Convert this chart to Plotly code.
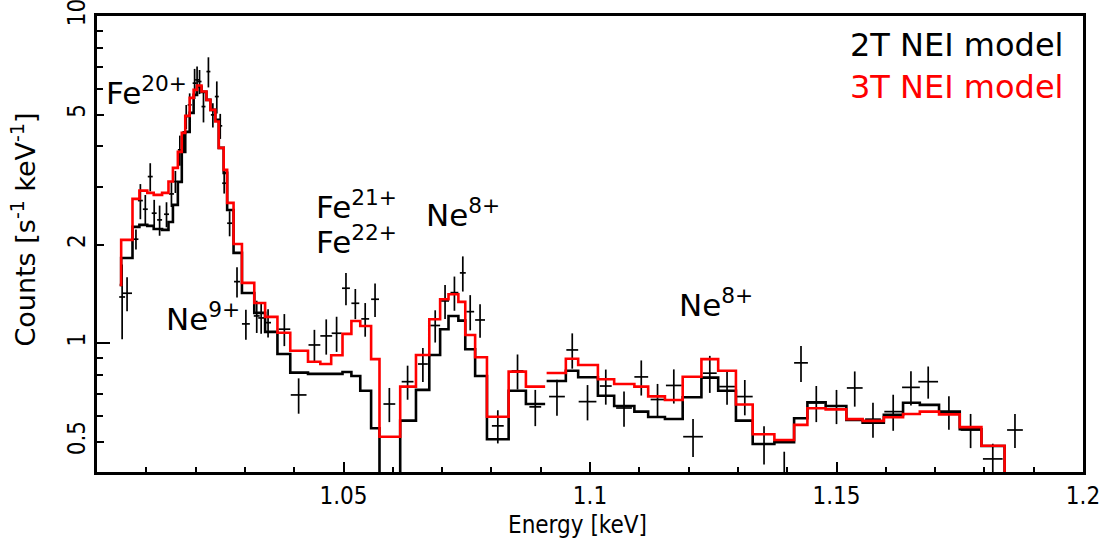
import plotly.graph_objects as go

# ---- Model spectra: bin edges (keV) for two contiguous segments ----
edges_a = [1.0046, 1.0049, 1.0072, 1.0086, 1.0102, 1.0115, 1.0132, 1.0145, 1.0154, 1.0164,
           1.0172, 1.0179, 1.0188, 1.0196, 1.0203, 1.0212, 1.0222, 1.0230, 1.0240, 1.0247,
           1.0257, 1.0264, 1.0277, 1.0294, 1.0319, 1.0341, 1.0366, 1.0392, 1.0428, 1.0453,
           1.0475, 1.0498, 1.0516, 1.0534, 1.0556, 1.0573, 1.0615, 1.0647, 1.0674, 1.0696,
           1.0713, 1.0733, 1.0747, 1.0767, 1.0791, 1.0835, 1.0870, 1.0909]
edges_b = [1.0912, 1.0951, 1.0976, 1.1016, 1.1049, 1.1090, 1.1118, 1.1152, 1.1188, 1.1226,
           1.1260, 1.1296, 1.1330, 1.1374, 1.1414, 1.1441, 1.1478, 1.1520, 1.1553, 1.1596,
           1.1635, 1.1669, 1.1708, 1.1750, 1.1794, 1.1841, 1.1843]

# 2T NEI model (counts s^-1 keV^-1 per bin)
model_2t_a = [1.507, 1.823, 2.268, 2.300, 2.284, 2.236, 2.221, 2.349, 2.648, 3.114,
              3.846, 4.429, 5.062, 5.745, 6.078, 5.868, 5.546, 5.170, 4.818, 3.956,
              3.317, 2.556, 1.889, 1.425, 1.238, 1.083, 0.927, 0.813, 0.806, 0.806,
              0.806, 0.817, 0.794, 0.716, 0.550, 0.360, 0.580, 0.720, 0.921, 1.104,
              1.212, 1.173, 0.959, 0.794, 0.509, 0.716, 0.652]
model_2t_b = [0.767, 0.824, 0.787, 0.691, 0.643, 0.618, 0.595, 0.587, 0.684, 0.785,
              0.716, 0.580, 0.492, 0.498, 0.590, 0.660, 0.643, 0.583, 0.572, 0.604,
              0.658, 0.648, 0.618, 0.546, 0.485, 0.300]

# 3T NEI model
model_3t_a = [1.507, 2.070, 2.763, 2.929, 2.882, 2.841, 2.882, 3.121, 3.437, 3.846,
              4.397, 4.956, 5.626, 5.951, 6.135, 5.880, 5.546, 5.170, 4.762, 3.956,
              3.388, 2.686, 2.012, 1.529, 1.328, 1.204, 1.077, 0.949, 0.878, 0.864,
              0.919, 1.068, 1.170, 1.129, 0.894, 0.518, 0.737, 0.921, 1.184, 1.363,
              1.412, 1.338, 1.060, 0.906, 0.596, 0.819, 0.737]
model_3t_b = [0.811, 0.897, 0.858, 0.776, 0.751, 0.737, 0.688, 0.671, 0.790, 0.894,
              0.824, 0.650, 0.527, 0.506, 0.563, 0.633, 0.628, 0.586, 0.579, 0.594,
              0.608, 0.618, 0.606, 0.554, 0.486, 0.300]

# ---- Observed spectrum ----
energy = [1.0051, 1.0061, 1.0079, 1.0088, 1.0098, 1.0108, 1.0116, 1.0127, 1.0141, 1.0151,
          1.0159, 1.0168, 1.0175, 1.0181, 1.0188, 1.0198, 1.0203, 1.0208, 1.0216, 1.0226,
          1.0235, 1.0243, 1.0250, 1.0258, 1.0269, 1.0284, 1.0302, 1.0324, 1.0333, 1.0347,
          1.0380, 1.0409, 1.0441, 1.0465, 1.0486, 1.0505, 1.0524, 1.0544, 1.0564, 1.0593,
          1.0630, 1.0661, 1.0686, 1.0706, 1.0725, 1.0742, 1.0757, 1.0777, 1.0813, 1.0853,
          1.0889, 1.0933, 1.0964, 1.0995, 1.1032, 1.1069, 1.1104, 1.1137, 1.1170, 1.1209,
          1.1243, 1.1278, 1.1314, 1.1353, 1.1394, 1.1428, 1.1459, 1.1500, 1.1537, 1.1574,
          1.1615, 1.1651, 1.1686, 1.1728, 1.1772, 1.1817, 1.1862]
energy_halfwidth = [0.0006, 0.0010, 0.0005, 0.0005, 0.0005, 0.0005, 0.0005, 0.0005, 0.0005, 0.0005,
                    0.0004, 0.0004, 0.0004, 0.0004, 0.0004, 0.0004, 0.0004, 0.0004, 0.0004, 0.0004,
                    0.0004, 0.0004, 0.0004, 0.0004, 0.0005, 0.0006, 0.0008, 0.0006, 0.0006, 0.0006,
                    0.0012, 0.0016, 0.0012, 0.0012, 0.0010, 0.0008, 0.0008, 0.0008, 0.0008,
                    0.0012, 0.0012, 0.0010, 0.0010, 0.0008, 0.0008, 0.0006, 0.0008, 0.0010, 0.0012,
                    0.0012, 0.0012, 0.0016, 0.0012, 0.0018, 0.0012, 0.0016, 0.0014, 0.0014, 0.0016,
                    0.0020, 0.0014, 0.0016, 0.0016, 0.0018, 0.0016, 0.0014, 0.0016, 0.0016, 0.0016,
                    0.0016, 0.0018, 0.0018, 0.0020, 0.0020, 0.0020, 0.0020, 0.0016]
counts = [1.385, 1.422, 2.080, 2.730, 2.569, 3.232, 2.498, 2.383, 2.480, 2.861,
          3.121, 3.901, 4.136, 4.932, 5.354, 6.239, 6.386, 6.310, 5.291, 6.769,
          4.991, 5.677, 4.619, 3.085, 2.328, 1.543, 1.146, 1.212, 1.195, 1.156,
          1.104, 0.695, 0.988, 1.053, 1.073, 1.473, 1.325, 1.187, 1.363, 0.652,
          0.763, 0.864, 1.133, 1.347, 1.428, 1.641, 1.249, 1.178, 0.559, 0.823,
          0.639, 0.687, 0.954, 0.663, 0.740, 0.634, 0.789, 0.673, 0.743, 0.518,
          0.810, 0.737, 0.687, 0.492, 0.390, 0.871, 0.657, 0.643, 0.730, 0.586,
          0.618, 0.733, 0.763, 0.616, 0.543, 0.443, 0.543]
counts_err = [0.356, 0.170, 0.146, 0.336, 0.271, 0.319, 0.246, 0.252, 0.218, 0.252,
              0.242, 0.412, 0.320, 0.417, 0.452, 0.659, 0.629, 0.533, 0.559, 0.715,
              0.422, 0.639, 0.406, 0.217, 0.205, 0.163, 0.121, 0.137, 0.126, 0.114,
              0.124, 0.086, 0.111, 0.130, 0.132, 0.166, 0.140, 0.140, 0.160, 0.078,
              0.091, 0.103, 0.128, 0.161, 0.171, 0.202, 0.154, 0.139, 0.065, 0.101,
              0.081, 0.087, 0.118, 0.082, 0.091, 0.078, 0.097, 0.078, 0.089, 0.069,
              0.105, 0.088, 0.085, 0.066, 0.076, 0.110, 0.083, 0.077, 0.090, 0.072,
              0.078, 0.088, 0.086, 0.072, 0.065, 0.050, 0.065]

# ---- Axis ticks ----
x_tickvals = [1.05, 1.1, 1.15, 1.2]
x_ticktext = ["1.05", "1.1", "1.15", "1.2"]
y_tickvals = [0.5, 1, 2, 5, 10]
y_ticktext = ["0.5", "1", "2", "5", "10"]
y_minorvals = [0.6, 0.7, 0.8, 0.9, 3, 4, 6, 7, 8, 9]
y_decades = [1, 10]

Y_RANGE = [-0.3936, 1.0004]


def step_xy(segments):
    """Join binned segments into x/y arrays for an 'hv' step line, with gaps between."""
    xs, ys = [], []
    for edges, vals in segments:
        if xs:
            xs.append(None)
            ys.append(None)
        xs.extend(edges)
        ys.extend(list(vals) + [vals[-1]])
    return xs, ys


x2, y2 = step_xy([(edges_a, model_2t_a), (edges_b, model_2t_b)])
x3, y3 = step_xy([(edges_a, model_3t_a), (edges_b, model_3t_b)])

fig = go.Figure()

fig.add_trace(go.Scatter(
    x=energy, y=counts, mode="markers",
    marker=dict(size=1, color="black"),
    error_x=dict(type="data", array=energy_halfwidth, color="black", thickness=1.7, width=0),
    error_y=dict(type="data", array=counts_err, color="black", thickness=1.7, width=0),
    showlegend=False, hoverinfo="skip",
))
fig.add_trace(go.Scatter(
    x=x2, y=y2, mode="lines", line=dict(color="black", width=2.6, shape="hv"),
    connectgaps=False, showlegend=False,
))
fig.add_trace(go.Scatter(
    x=x3, y=y3, mode="lines", line=dict(color="#ff0000", width=2.6, shape="hv"),
    connectgaps=False, showlegend=False,
))
# invisible anchor so the decade-tick overlay axis is drawn
fig.add_trace(go.Scatter(
    x=[energy[0]], y=[counts[0]], yaxis="y2", mode="markers",
    marker=dict(size=1, opacity=0), showlegend=False, hoverinfo="skip",
))

text_font = dict(family="DejaVu Sans", size=31, color="black")
labels = [
    ("Fe<sup>20+</sup>", 0.0075, 0.835),
    ("Fe<sup>21+</sup>", 0.2203, 0.585),
    ("Fe<sup>22+</sup>", 0.2203, 0.508),
    ("Ne<sup>8+</sup>", 0.3318, 0.567),
    ("Ne<sup>9+</sup>", 0.0683, 0.341),
    ("Ne<sup>8+</sup>", 0.5885, 0.370),
]
for txt, px, py in labels:
    fig.add_annotation(text=txt, x=px, y=py, xref="paper", yref="paper",
                       xanchor="left", yanchor="middle", showarrow=False, font=text_font)

fig.add_annotation(text="2T NEI model", x=0.982, y=0.936, xref="paper", yref="paper",
                   xanchor="right", yanchor="middle", showarrow=False,
                   font=dict(family="DejaVu Sans", size=32, color="black"))
fig.add_annotation(text="3T NEI model", x=0.982, y=0.844, xref="paper", yref="paper",
                   xanchor="right", yanchor="middle", showarrow=False,
                   font=dict(family="DejaVu Sans", size=32, color="#ff0000"))

# axis titles
fig.add_annotation(text="Energy [keV]", x=0.4878, y=-0.1162, xref="paper", yref="paper",
                   xanchor="center", yanchor="middle", showarrow=False,
                   font=dict(family="DejaVu Sans Condensed, Liberation Sans Narrow", size=24,
                             color="black"))
fig.add_annotation(text="Counts [s<sup>-1</sup> keV<sup>-1</sup>]", x=-0.0755, y=0.5307,
                   xref="paper", yref="paper", xanchor="center", yanchor="middle",
                   textangle=-90, showarrow=False,
                   font=dict(family="DejaVu Sans", size=27, color="black"))

tick_font = dict(family="Liberation Sans Narrow, DejaVu Sans Condensed, DejaVu Sans",
                 size=24, color="black")

fig.update_xaxes(
    range=[1.0, 1.2], showgrid=False, zeroline=False, automargin=False,
    showline=True, linewidth=2.5, linecolor="black", mirror=True,
    ticks="inside", ticklen=10, tickwidth=1.5, tickcolor="black",
    tickvals=x_tickvals, ticktext=x_ticktext, tickfont=tick_font,
    minor=dict(dtick=0.01, tick0=1.0, ticks="inside", ticklen=5, tickwidth=1.5,
               tickcolor="black", showgrid=False),
)

fig.update_layout(
    yaxis=dict(
        type="log", range=Y_RANGE, showgrid=False, zeroline=False, automargin=False,
        showline=True, linewidth=2.5, linecolor="black", mirror=True,
        ticks="inside", ticklen=7, tickwidth=1.5, tickcolor="black",
        tickvals=y_tickvals, ticktext=y_ticktext, tickfont=tick_font, tickangle=-90,
        ticklabeloverflow="allow",
        minor=dict(tickmode="array", tickvals=y_minorvals, ticks="inside", ticklen=6,
                   tickwidth=1.5, tickcolor="black", showgrid=False),
    ),
    yaxis2=dict(
        type="log", range=Y_RANGE, overlaying="y", side="left", automargin=False,
        showgrid=False, zeroline=False, showline=False,
        ticks="inside", ticklen=13, tickwidth=1.5, tickcolor="black",
        tickvals=y_decades, showticklabels=False,
    ),
    width=1107, height=548,
    margin=dict(l=97, r=24, t=16, b=76, pad=0),
    paper_bgcolor="white", plot_bgcolor="white",
    showlegend=False,
)

fig.write_html("out.html")
